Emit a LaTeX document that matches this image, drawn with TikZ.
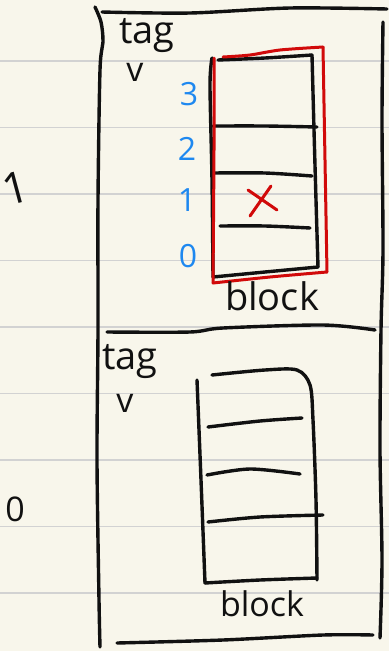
\documentclass[tikz,border=0pt]{standalone}
\usepackage{fontspec}
\setmainfont{Open Sans}
\definecolor{paper}{HTML}{F8F6EB}
\definecolor{rule}{HTML}{D2D2D2}
\definecolor{pen}{HTML}{111111}
\definecolor{redpen}{HTML}{D10A0A}
\definecolor{bluepen}{HTML}{1E88F0}
\begin{document}
\begin{tikzpicture}[x=1pt,y=-1pt,
  ink/.style={draw=pen,line width=3.4pt,line cap=round,line join=round},
  redink/.style={draw=redpen,line width=3pt,line cap=round,line join=round},
  ruled/.style={draw=rule,line width=1.6pt},
  hand/.style={inner sep=0pt,text=pen,font=\fontsize{#1}{#1}\selectfont},
  idx/.style={inner sep=0pt,text=bluepen,font=\fontsize{32}{32}\selectfont}]
\fill[paper] (0,0) rectangle (389,651);
\useasboundingbox (0,0) rectangle (389,651);
\foreach \k in {0,...,8} \draw[ruled] (0,61+66.5*\k) -- (389,61+66.5*\k);
% outer frame
\draw[ink] plot[smooth] coordinates {(95,7) (101,22) (103,42) (100,70) (98,200) (98,330) (97,460) (99,600) (100,647)};
\draw[ink] plot[smooth] coordinates {(102,12) (190,13) (290,8) (387,9)};
\draw[ink] plot[smooth] coordinates {(383,22) (382,120) (383,250) (381,330) (380,450) (382,560) (380,638)};
\draw[ink] plot[smooth] coordinates {(107,332) (190,332) (223,328) (323,325) (375,330)};
\draw[ink] plot[smooth] coordinates {(117,643) (223,640) (323,635) (373,635)};
% side labels
\node[hand=44,rotate=15] (one) at (16,188) {1};
\node[hand=34] (zero) at (15,509) {0};
% top section
\node[hand=38] (tagA) at (147,36) {tag};
\node[hand=34] (vA) at (135,72) {v};
\draw[ink] plot[smooth] coordinates {(212,58) (210,85) (212,180) (213,277)};
\draw[ink] plot[smooth] coordinates {(218,60) (265,58) (312,55)};
\draw[ink] plot[smooth] coordinates {(312,55) (314,130) (316,200) (318,267)};
\draw[ink] plot[smooth] coordinates {(213,277) (265,272) (318,267)};
\draw[ink] plot[smooth] coordinates {(213,126) (265,126) (317,127)};
\draw[ink] plot[smooth] coordinates {(213,173) (265,173) (312,176)};
\draw[ink] plot[smooth] coordinates {(220,226) (265,226) (310,228)};
\draw[redink] plot[smooth] coordinates {(214,58) (214,150) (213,283)};
\draw[redink] plot[smooth] coordinates {(213,283) (270,277) (327,272)};
\draw[redink] plot[smooth] coordinates {(327,272) (325,160) (323,47)};
\draw[redink] plot[smooth] coordinates {(323,47) (280,50) (250,55) (223,57)};
\draw[redink] (250,216) -- (271,186);
\draw[redink] (248,190) -- (277,210);
\node[idx] (i3) at (189,94) {3};
\node[idx] (i2) at (187,149) {2};
\node[idx] (i1) at (187,200) {1};
\node[idx] (i0) at (188,256) {0};
\node[hand=38] (blockA) at (272,296) {block};
% bottom section
\node[hand=38] (tagB) at (130,362) {tag};
\node[hand=34] (vB) at (125,403) {v};
\draw[ink] plot[smooth] coordinates {(197,380) (201,480) (205,583)};
\draw[ink] plot[smooth] coordinates {(212,375) (265,370) (297,370) (310,385) (313,420) (316,500) (317,580)};
\draw[ink] plot[smooth] coordinates {(205,583) (260,580) (317,578)};
\draw[ink] plot[smooth] coordinates {(208,427) (260,421) (302,418)};
\draw[ink] plot[smooth] coordinates {(207,475) (250,469) (300,474)};
\draw[ink] plot[smooth] coordinates {(208,522) (260,517) (323,515)};
\node[hand=34] (blockB) at (262,604) {block};
\end{tikzpicture}
\end{document}
